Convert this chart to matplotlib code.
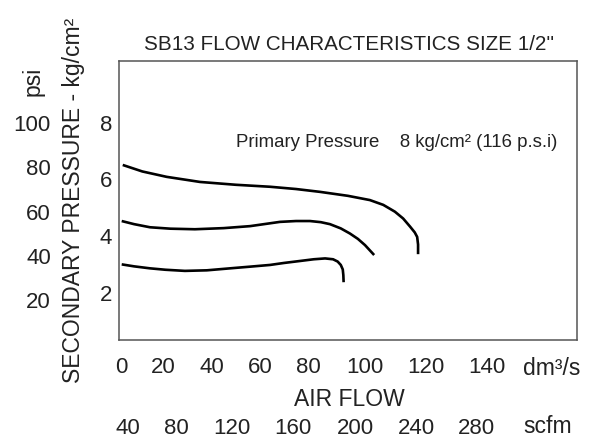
import numpy as np
import matplotlib
matplotlib.use("Agg")
import matplotlib.pyplot as plt

plt.rcParams['font.family'] = ['Liberation Sans', 'DejaVu Sans']

# data (flow in dm3/s, secondary pressure in kg/cm2)
flow_ticks = [0, 20, 40, 60, 80, 100, 120, 140]
scfm_ticks = [40, 80, 120, 160, 200, 240, 280]
kg_ticks = [2, 4, 6, 8]
psi_ticks = [20, 40, 60, 80, 100]

top_flow = [0.5, 10, 21.5, 35.2, 50, 64.2, 75, 84.2, 94, 101.6, 106, 109.8, 112.5, 114.8, 116.3, 117.1, 117.4, 117.4]
top_kg = [6.51, 6.28, 6.09, 5.91, 5.81, 5.74, 5.66, 5.56, 5.42, 5.27, 5.10, 4.86, 4.62, 4.33, 4.13, 3.97, 3.70, 3.36]

mid_flow = [0, 6, 13.7, 23, 33.1, 45, 55.9, 68.3, 75, 80.7, 84.5, 87.7, 91.5, 94.7, 97.5, 100, 103.0]
mid_kg = [4.53, 4.42, 4.31, 4.26, 4.24, 4.28, 4.35, 4.50, 4.53, 4.53, 4.49, 4.42, 4.27, 4.09, 3.90, 3.68, 3.33]

low_flow = [0, 6, 13.7, 21, 29.0, 38, 47.6, 56, 64.2, 70, 76.7, 82, 86.0, 88.8, 90.4, 91.5, 92.2, 92.4, 92.5]
low_kg = [3.00, 2.93, 2.86, 2.81, 2.77, 2.79, 2.86, 2.92, 2.98, 3.05, 3.12, 3.18, 3.21, 3.18, 3.10, 2.98, 2.82, 2.62, 2.37]

# the printed scales are not evenly spaced: pixel position of each tick label
flow_px = [121.7, 163, 211.7, 260, 308, 365, 426, 486.7]
scfm_px = [128, 176.7, 231.7, 293, 355, 416.7, 476.7]

W, H = 590, 438
box_l, box_r, box_t, box_b = 119, 577.3, 61, 340


def piecewise(vals, pos):
    vals = np.asarray(vals, float)
    pos = np.asarray(pos, float)
    s0 = (pos[1] - pos[0]) / (vals[1] - vals[0])
    s1 = (pos[-1] - pos[-2]) / (vals[-1] - vals[-2])

    def fwd(v):
        v = np.asarray(v, float)
        out = np.interp(v, vals, pos)
        out = np.where(v < vals[0], pos[0] + (v - vals[0]) * s0, out)
        out = np.where(v > vals[-1], pos[-1] + (v - vals[-1]) * s1, out)
        return out

    def inv(p):
        p = np.asarray(p, float)
        out = np.interp(p, pos, vals)
        out = np.where(p < pos[0], vals[0] + (p - pos[0]) / s0, out)
        out = np.where(p > pos[-1], vals[-1] + (p - pos[-1]) / s1, out)
        return out

    return fwd, inv


def fx(x):
    return x / W


def fy(y):
    return 1 - y / H


fig = plt.figure(figsize=(5.9, 4.38), dpi=100)
ax = fig.add_axes([fx(box_l), fy(box_b), (box_r - box_l) / W, (box_b - box_t) / H])

fwd, inv = piecewise(flow_ticks, flow_px)
ax.set_xscale('function', functions=(fwd, inv))
ax.set_xlim(float(inv(box_l)), float(inv(box_r)))
ax.set_ylim(0.33, 10.18)

for fl, kg in [(top_flow, top_kg), (mid_flow, mid_kg), (low_flow, low_kg)]:
    ax.plot(fl, kg, color='black', lw=1.9, solid_capstyle='butt')

tc = '#222222'
fs = 16

ax.set_xticks(flow_ticks)
ax.set_xticklabels([str(v) for v in flow_ticks])
ax.set_yticks(kg_ticks)
ax.set_yticklabels([str(v) for v in kg_ticks])
ax.tick_params(length=0, labelsize=fs, colors=tc)
ax.tick_params(axis='x', pad=12.5)
ax.tick_params(axis='y', pad=5)
ax.xaxis.set_minor_locator(plt.NullLocator())
for sp in ax.spines.values():
    sp.set_color('#555555')
    sp.set_linewidth(1.1)

# psi scale on the left
ax_psi = ax.twinx()
ax_psi.set_ylim(1.9, 128.1)
ax_psi.yaxis.set_ticks_position('left')
ax_psi.set_yticks(psi_ticks)
ax_psi.set_yticklabels([str(v) for v in psi_ticks])
ax_psi.tick_params(length=0, labelsize=fs, colors=tc, pad=49)
for sp in ax_psi.spines.values():
    sp.set_visible(False)

# scfm scale below
ax_scfm = ax.twiny()
f2, i2 = piecewise(scfm_ticks, scfm_px)
ax_scfm.set_xscale('function', functions=(f2, i2))
ax_scfm.set_xlim(float(i2(box_l)), float(i2(box_r)))
ax_scfm.xaxis.set_ticks_position('bottom')
ax_scfm.set_xticks(scfm_ticks)
ax_scfm.set_xticklabels([str(v) for v in scfm_ticks])
ax_scfm.xaxis.set_minor_locator(plt.NullLocator())
ax_scfm.tick_params(length=0, labelsize=fs, colors=tc, pad=56)
for sp in ax_scfm.spines.values():
    sp.set_visible(False)

fig.text(fx(349), fy(50), "SB13 FLOW CHARACTERISTICS SIZE 1/2''", ha='center', va='baseline', fontsize=14.9, color=tc)
fig.text(fx(236), fy(147), "Primary Pressure    8 kg/cm\u00b2 (116 p.s.i)", ha='left', va='baseline', fontsize=13.4, color=tc)
fig.text(fx(349), fy(406.5), "AIR FLOW", ha='center', va='baseline', fontsize=16.5, color=tc)
fig.text(fx(523), fy(375), "dm\u00b3/s", ha='left', va='baseline', fontsize=16.5, color=tc)
fig.text(fx(523), fy(433), "scfm", ha='left', va='baseline', fontsize=16.5, color=tc)
fig.text(fx(73.5), fy(200), "SECONDARY PRESSURE - kg/cm\u00b2", rotation=90, ha='center', va='center', fontsize=16.5, color=tc)
fig.text(fx(33), fy(81), "psi", rotation=90, ha='center', va='center', fontsize=16.5, color=tc)

fig.savefig('out.png', dpi=100)
